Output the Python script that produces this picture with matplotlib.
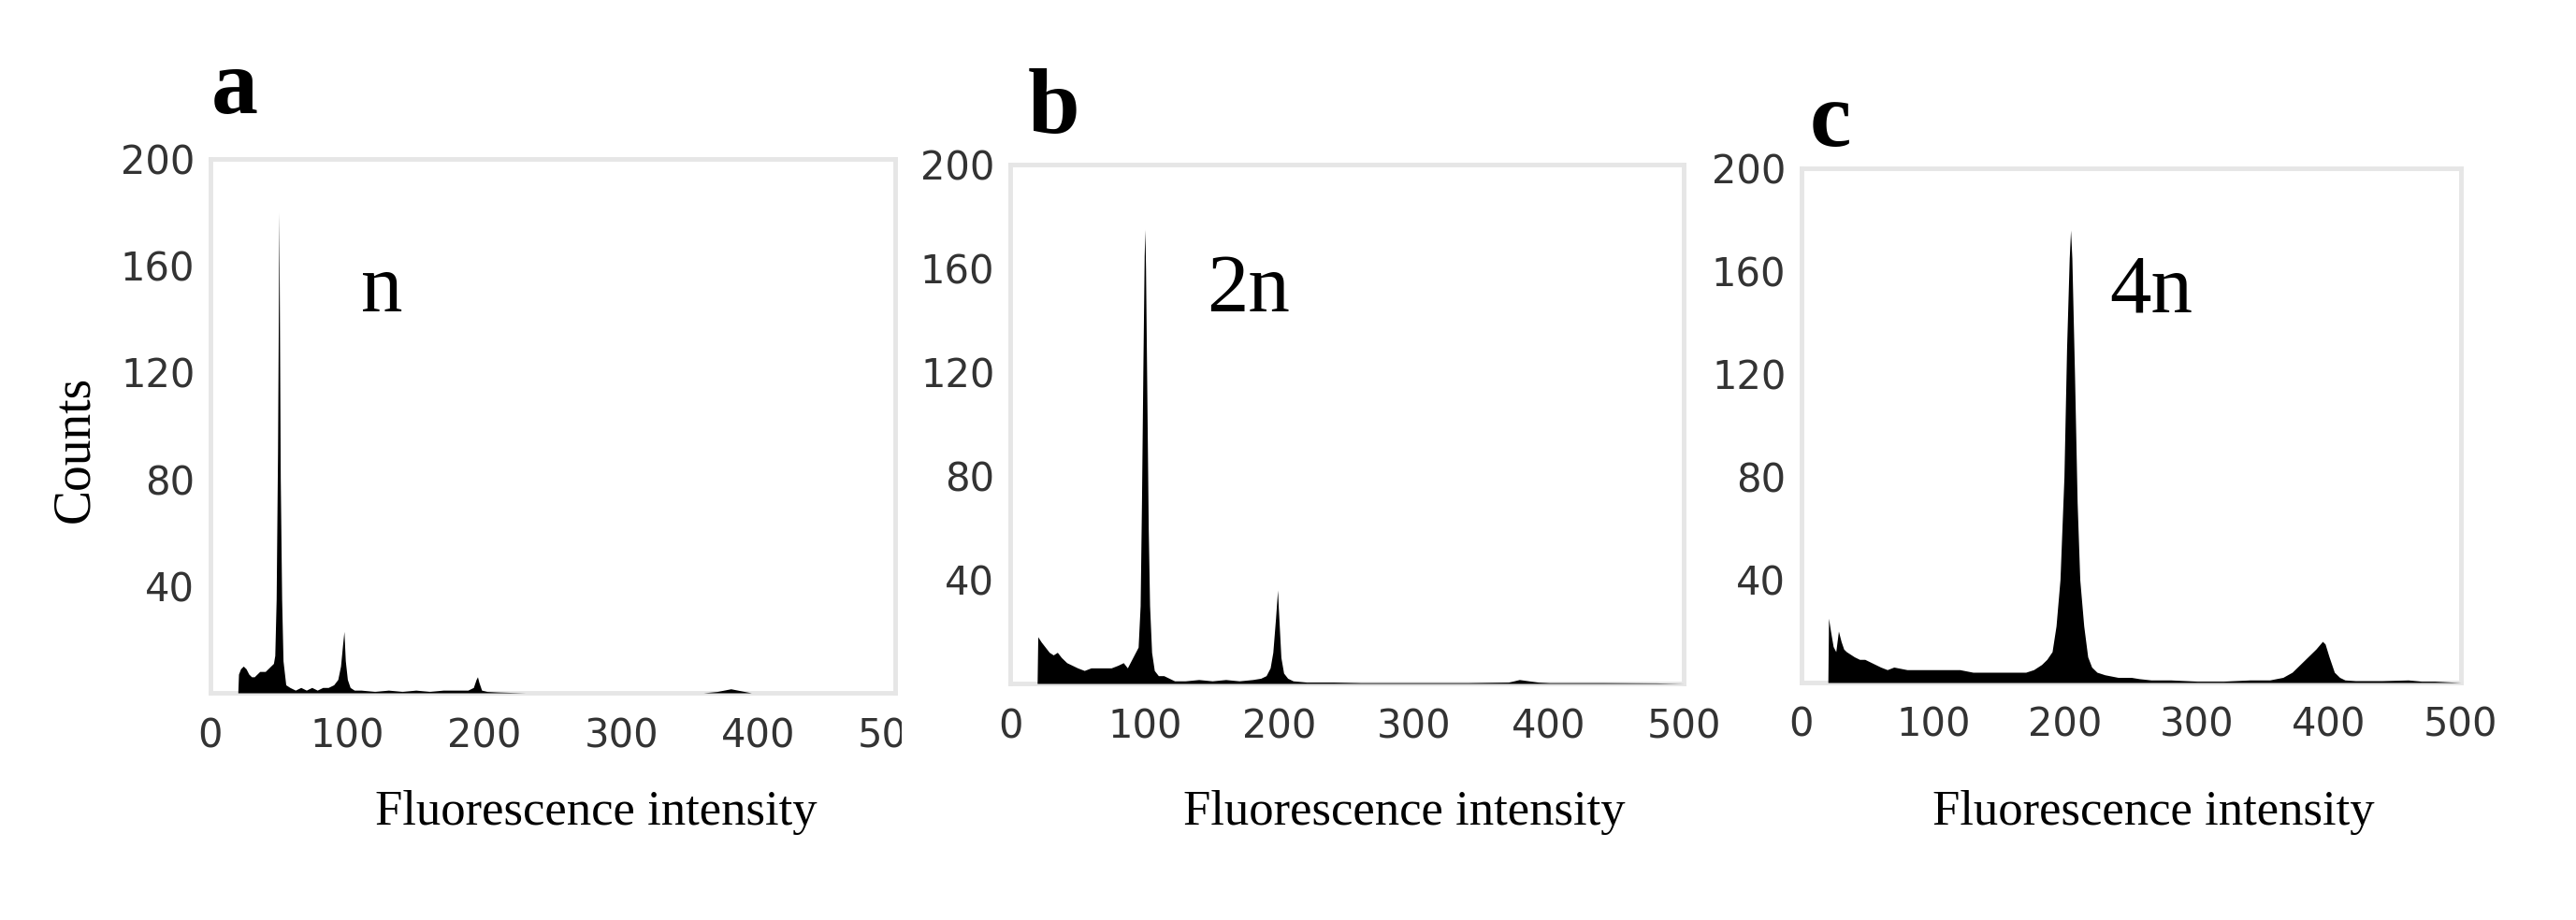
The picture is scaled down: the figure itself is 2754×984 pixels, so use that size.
"""Three DNA-content histograms (n, 2n, 4n) side by side."""

import matplotlib
matplotlib.use("Agg")
import matplotlib.pyplot as plt
from matplotlib.transforms import Bbox

# ---- data (fluorescence intensity, counts) ----
a_x = [20, 20.5, 22, 24, 26, 28, 30, 32, 34, 36, 38, 40, 42, 44, 46, 47, 48,
       49, 49.7, 50, 50.4, 51, 52, 53, 55, 58, 62, 66, 70, 74, 78, 82, 86,
       90, 93, 95, 96.5, 97.5, 98.5, 100, 102, 105, 110, 120, 130, 140, 150,
       160, 170, 180, 188, 192, 194, 195, 196, 198, 202, 210, 230, 360, 370,
       375, 380, 385, 395, 500]
a_y = [0, 7, 9, 10, 9, 7, 6, 6, 7, 8, 8, 8, 9, 10, 11, 14, 35,
       90, 150, 180, 140, 80, 35, 12, 3, 2, 1, 2, 1, 2, 1, 2, 2,
       3, 5, 10, 18, 23, 12, 5, 2, 1, 1, 0.5, 1, 0.5, 1,
       0.5, 1, 1, 1, 2, 5, 6, 4, 1, 0.5, 0.3, 0, 0, 0.5,
       1, 1.5, 1, 0, 0]

b_x = [20, 20.5, 23, 26, 29, 32, 35, 38, 42, 46, 50, 55, 60, 65, 70, 75, 80,
       84, 87, 90, 93, 95, 96.5, 97.5, 98.5, 99.5, 100, 100.5, 101.5, 102.5,
       103.5, 105, 107, 110, 114, 118, 122, 130, 140, 150, 160, 170, 180,
       186, 190, 193, 195, 197, 198.5, 199, 199.5, 201, 203, 206, 210, 220,
       240, 260, 300, 340, 370, 378, 385, 392, 400, 440, 480, 500]
b_y = [0, 18, 16, 14, 12, 11, 12, 10, 8, 7, 6, 5, 6, 6, 6, 6, 7,
       8, 6, 9, 12, 14, 30, 70, 120, 165, 175, 160, 110, 60,
       30, 12, 5, 3, 3, 2, 1, 1, 1.5, 1, 1.5, 1, 1.5,
       2, 3, 6, 12, 25, 36, 30, 25, 10, 4, 2, 1, 0.5,
       0.5, 0.3, 0.3, 0.3, 0.5, 1.5, 1, 0.5, 0.3, 0.3, 0.2, 0]

c_x = [20, 20.5, 22, 24, 26, 28, 30, 32, 34, 37, 40, 44, 48, 52, 56, 60, 65,
       70, 80, 90, 100, 110, 120, 130, 140, 150, 160, 170, 176, 182, 186,
       190, 193, 196, 199, 201, 203, 204, 205, 207, 209, 211, 214, 217, 220,
       224, 230, 240, 250, 256, 265, 280, 300, 320, 340, 355, 365, 372,
       378, 384, 390, 395, 397, 400, 404, 408, 412, 420, 440, 460, 470, 480,
       500]
c_y = [0, 25, 20, 14, 12, 20, 16, 13, 12, 11, 10, 9, 9, 8, 7, 6, 5,
       6, 5, 5, 5, 5, 5, 4, 4, 4, 4, 4, 5, 7, 9,
       12, 22, 40, 80, 130, 165, 176, 165, 120, 70, 40, 22, 10, 6,
       4, 3, 2, 2, 1.5, 1, 1, 0.5, 0.5, 1, 1, 2, 4,
       7, 10, 13, 16, 15, 10, 4, 2, 1, 0.7, 0.7, 1, 0.5, 0.5,
       0]

panel_letters = ["a", "b", "c"]
ploidy_labels = ["n", "2n", "4n"]
x_ticks = [0, 100, 200, 300, 400, 500]
y_ticks = [40, 80, 120, 160, 200]

W, H = 2754, 984
SERIF = ["Liberation Serif", "DejaVu Serif"]
SANS = ["DejaVu Sans"]

fig = plt.figure(figsize=(W / 100, H / 100), dpi=100)


def px_box(left, top, right, bottom):
    return [left / W, 1 - bottom / H, (right - left) / W, (bottom - top) / H]


boxes = [px_box(225, 170, 957, 741),
         px_box(1080, 176, 1800, 731),
         px_box(1926, 180, 2631, 730)]
series = [(a_x, a_y), (b_x, b_y), (c_x, c_y)]

# letter (x, baseline), ploidy label (x centre, baseline), xlabel (x centre)
letter_pos = [(251, 121), (1127, 142), (1957, 156)]
ploidy_pos = [(408, 333), (1335, 333), (2300, 333)]
xlabel_x = [637, 1501, 2302]

for i, (box, (xs, ys)) in enumerate(zip(boxes, series)):
    ax = fig.add_axes(box)
    ax.fill_between(xs, ys, 0, color="black", lw=0, zorder=3)
    ax.set_xlim(0, 500)
    ax.set_ylim(0, 200)
    ax.set_xticks(x_ticks)
    ax.set_yticks(y_ticks)
    ax.tick_params(length=0, labelsize=30, labelcolor="#333333")
    ax.tick_params(axis="x", pad=18)
    ax.tick_params(axis="y", pad=12)
    for lab in ax.get_xticklabels() + ax.get_yticklabels():
        lab.set_family(SANS)
    for sp in ax.spines.values():
        sp.set_color("#e6e6e6")
        sp.set_linewidth(3.5)

    if i == 0:
        # the source image crops panel a just right of its frame -> "50"
        clip = Bbox.from_extents(0, 0, 964, H)
        last = ax.get_xticklabels()[-1]
        last.set_clip_box(clip)
        last.set_clip_on(True)

    lx, ly = letter_pos[i]
    fig.text(lx / W, 1 - ly / H, panel_letters[i], family=SERIF,
             fontweight="bold", fontsize=72, ha="center", va="baseline")
    px, py = ploidy_pos[i]
    fig.text(px / W, 1 - py / H, ploidy_labels[i], family=SERIF,
             fontsize=64, ha="center", va="baseline")
    fig.text(xlabel_x[i] / W, 1 - 882 / H, "Fluorescence intensity",
             family=SERIF, fontsize=38, ha="center", va="baseline")

fig.text(80 / W, 1 - 480 / H, "Counts", family=SERIF, fontsize=40,
         rotation=90, ha="center", va="center")

fig.savefig("out.png", dpi=100, facecolor="white")
